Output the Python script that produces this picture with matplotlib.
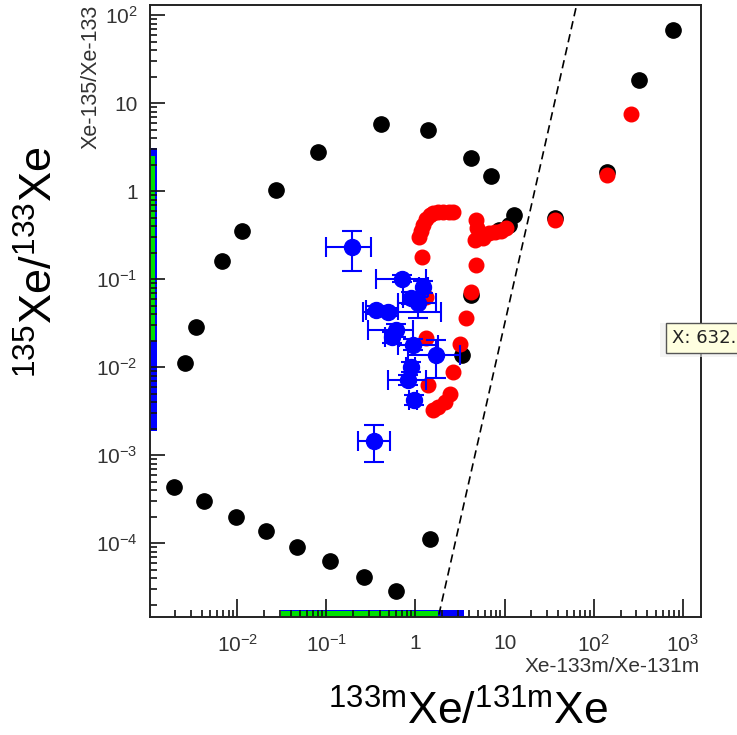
import numpy as np
import matplotlib
matplotlib.use("Agg")
import matplotlib.pyplot as plt
from matplotlib.ticker import LogLocator, NullFormatter, FixedLocator, FixedFormatter
from matplotlib.patches import Rectangle

plt.rcParams['font.family'] = ['Liberation Sans', 'DejaVu Sans']
plt.rcParams['mathtext.fontset'] = 'custom'
plt.rcParams['mathtext.rm'] = 'Liberation Sans'
plt.rcParams['mathtext.it'] = 'Liberation Sans:italic'

# black model curve (Xe-133m/Xe-131m, Xe-135/Xe-133)
black_x = [2.61e-3, 3.46e-3, 6.78e-3, 0.0114, 0.0274, 0.0813, 0.415, 1.40, 4.15, 6.96,
           12.6, 11.1, 8.56, 36.5, 140, 320, 772,
           1.96e-3, 4.26e-3, 9.75e-3, 0.0212, 0.0472, 0.111, 0.267, 0.612, 1.47, 3.37, 4.15]
black_y = [0.0111, 0.0285, 0.160, 0.351, 1.03, 2.77, 5.77, 4.93, 2.37, 1.48,
           0.534, 0.411, 0.360, 0.493, 1.64, 18.3, 67.6,
           4.33e-4, 3.00e-4, 1.97e-4, 1.37e-4, 9.0e-5, 6.24e-5, 4.11e-5, 2.85e-5, 1.11e-4, 0.0137, 0.0658]

# red model curve
red_x = [2.67, 2.35, 2.06, 1.81, 1.59, 1.44, 1.30, 1.20, 1.14, 1.11, 1.17, 1.33, 1.33, 1.40,
         1.59, 1.81, 2.12, 2.41, 2.67, 3.20, 3.65, 4.15, 4.72, 4.60, 4.85, 4.72,
         5.66, 6.61, 7.72, 9.02, 10.5, 36.5, 140, 261]
red_y = [0.577, 0.577, 0.577, 0.577, 0.562, 0.534, 0.481, 0.411, 0.351, 0.300, 0.178, 0.0624, 0.0214, 6.24e-3,
         3.25e-3, 3.51e-3, 4.00e-3, 4.93e-3, 8.77e-3, 0.0183, 0.0360, 0.0711, 0.144, 0.277, 0.380, 0.468,
         0.292, 0.333, 0.342, 0.351, 0.380, 0.468, 1.52, 7.50]

# blue measurements with asymmetric error ranges
blue_x = [0.196, 0.714, 1.23, 0.497, 0.365, 1.08, 0.88, 0.612, 0.54, 0.95, 1.68, 0.88, 0.834, 0.974, 0.346]
blue_y = [0.231, 0.100, 0.081, 0.0422, 0.0444, 0.0534, 0.0608, 0.0263, 0.022, 0.0178, 0.0137, 0.0100, 0.00711, 0.00422, 0.00144]
blue_xlo = [0.100, 0.365, 1.10, 0.26, 0.28, 0.644, 0.72, 0.296, 0.45, 0.644, 0.835, 0.79, 0.497, 0.85, 0.229]
blue_xhi = [0.320, 1.30, 1.40, 1.91, 0.64, 1.68, 1.10, 0.95, 0.65, 1.81, 3.20, 0.98, 1.33, 1.05, 0.524]
blue_ylo = [0.123, 0.092, 0.070, 0.038, 0.040, 0.036, 0.052, 0.022, 0.019, 0.0155, 0.0075, 0.0088, 0.0062, 0.0037, 0.00083]
blue_yhi = [0.351, 0.110, 0.094, 0.047, 0.049, 0.062, 0.071, 0.031, 0.025, 0.021, 0.0203, 0.0114, 0.0082, 0.0048, 0.00219]

# dashed discrimination line
line_x = [1.7, 70]
line_y = [1.1e-5, 190]

# projection bands along the axes
left_blue = [1.9e-3, 3.1]
left_green = [0.02, 2.5]
bottom_blue = [0.031, 3.5]
bottom_green = [0.031, 1.8]

x_ticks = [1e-2, 1e-1, 1, 10, 1e2, 1e3]
x_labels = ['$10^{-2}$', '$10^{-1}$', '1', '10', '$10^{2}$', '$10^{3}$']
y_ticks = [1e-4, 1e-3, 1e-2, 1e-1, 1, 10, 1e2]
y_labels = ['$10^{-4}$', '$10^{-3}$', '$10^{-2}$', '$10^{-1}$', '1', '10', '$10^{2}$']

fig = plt.figure(figsize=(7.37, 7.35), dpi=100)
ax = fig.add_axes([150 / 737, 118 / 735, 551 / 737, 612 / 735])
ax.set_xscale('log')
ax.set_yscale('log')
ax.set_xlim(1.05e-3, 1600)
ax.set_ylim(1.45e-5, 130)

ax.fill_betweenx(left_blue, 0, 0.012, color='blue', lw=0, transform=ax.get_yaxis_transform(), zorder=1)
ax.fill_betweenx(left_green, 0, 0.009, color='#00e000', lw=0, transform=ax.get_yaxis_transform(), zorder=1)
ax.fill_between(bottom_blue, 0, 0.011, color='blue', lw=0, transform=ax.get_xaxis_transform(), zorder=1)
ax.fill_between(bottom_green, 0, 0.009, color='#00e000', lw=0, transform=ax.get_xaxis_transform(), zorder=1)

ax.plot(line_x, line_y, color='black', lw=1.2, ls=(0, (5, 3)), zorder=2)
ax.plot(black_x, black_y, 'o', color='black', ms=11, zorder=3)
ax.plot(red_x, red_y, 'o', color='red', ms=10.5, zorder=4)

bx = np.array(blue_x)
by = np.array(blue_y)
xerr = [bx - np.array(blue_xlo), np.array(blue_xhi) - bx]
yerr = [by - np.array(blue_ylo), np.array(blue_yhi) - by]
ax.errorbar(bx, by, xerr=xerr, yerr=yerr, fmt='o', color='blue', ms=11.5,
            elinewidth=1.5, capsize=7, capthick=1.5, zorder=5)

for s in ax.spines.values():
    s.set_linewidth(1.4)
    s.set_color('#222222')

ax.xaxis.set_major_locator(FixedLocator(x_ticks))
ax.xaxis.set_major_formatter(FixedFormatter(x_labels))
ax.yaxis.set_major_locator(FixedLocator(y_ticks))
ax.yaxis.set_major_formatter(FixedFormatter(y_labels))
ax.xaxis.set_minor_locator(LogLocator(base=10, subs=np.arange(2, 10), numticks=100))
ax.yaxis.set_minor_locator(LogLocator(base=10, subs=np.arange(2, 10), numticks=100))
ax.xaxis.set_minor_formatter(NullFormatter())
ax.yaxis.set_minor_formatter(NullFormatter())
ax.tick_params(which='both', direction='in', top=False, right=False, width=1.2, color='#111111', zorder=6)
ax.tick_params(axis='x', which='major', length=13, pad=12, labelsize=15, labelcolor='#333333')
ax.tick_params(axis='y', which='major', length=11, pad=9, labelsize=15, labelcolor='#333333')
ax.tick_params(which='minor', length=5)

fig.text(91 / 737, 730 / 735, 'Xe-135/Xe-133', rotation=90, ha='center', va='top',
         fontsize=15.5, color='#333333')
fig.text(700 / 737, (735 - 666) / 735, 'Xe-133m/Xe-131m', ha='right', va='center',
         fontsize=15, color='#333333')

fig.text(40 / 737, (735 - 262) / 735, r'$^{\mathrm{135}}$Xe/$^{\mathrm{133}}$Xe', rotation=90,
         ha='center', va='center', fontsize=32.5)
fig.text(468 / 737, (735 - 712) / 735, r'$^{\mathrm{133m}}$Xe/$^{\mathrm{131m}}$Xe',
         ha='center', va='center', fontsize=32)

# tooltip box
fig.patches.append(Rectangle((660 / 737, (735 - 357) / 735), 0.12, 34 / 735, transform=fig.transFigure,
                             facecolor='#eeeeee', edgecolor='none', alpha=0.6, zorder=9))
fig.patches.append(Rectangle((666 / 737, (735 - 353) / 735), 0.12, 30 / 735, transform=fig.transFigure,
                             facecolor='#ffffe0', edgecolor='#555555', lw=1, zorder=10))
fig.text(672 / 737, (735 - 338) / 735, 'X: 632.', ha='left', va='center', fontsize=13,
         family='DejaVu Sans', color='#222222', zorder=11)

fig.savefig('out.png', dpi=100)
